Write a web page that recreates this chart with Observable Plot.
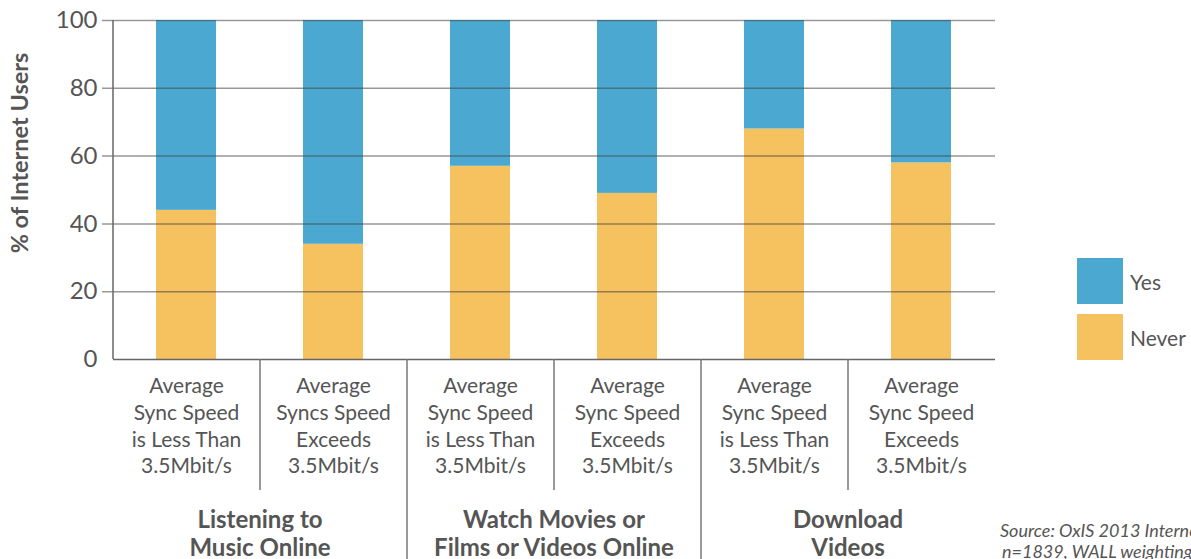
<!DOCTYPE html>
<html><head><meta charset="utf-8">
<script src="https://cdn.jsdelivr.net/npm/d3@7"></script>
<script src="https://cdn.jsdelivr.net/npm/@observablehq/plot@0.6"></script>
<style>
html,body{margin:0;padding:0;background:#fff;width:1191px;height:559px;overflow:hidden;font-family:Lato,sans-serif;color:#555}
#chart{position:absolute;left:0;top:0}
.legend{position:absolute;left:1077px;top:258px}
.item{display:flex;align-items:center;height:46px;margin-bottom:10px;font-size:21px}
.sw{width:46px;height:46px;margin-right:7px}
.source{position:absolute;left:1000px;top:520px;font-style:italic;font-size:18px;line-height:21px;white-space:nowrap}
.source span{padding-left:2px}
</style></head><body>
<div id="chart"></div>
<div class="legend" id="legend"></div>
<div class="source">Source: OxIS 2013 Internet Survey<br><span>n=1839, WALL weightings</span></div>
<script>
const barKeys = ["music-less","music-more","movies-less","movies-more","videos-less","videos-more"];
const barLabels = [
  "Average\nSync Speed\nis Less Than\n3.5Mbit/s",
  "Average\nSyncs Speed\nExceeds\n3.5Mbit/s",
  "Average\nSync Speed\nis Less Than\n3.5Mbit/s",
  "Average\nSync Speed\nExceeds\n3.5Mbit/s",
  "Average\nSync Speed\nis Less Than\n3.5Mbit/s",
  "Average\nSync Speed\nExceeds\n3.5Mbit/s"
];
const groupLabels = ["Listening to\nMusic Online", "Watch Movies or\nFilms or Videos Online", "Download\nVideos"];
const innerKeys = ["music-more","movies-more","videos-more"];   // second bar of each group
const groupStartKeys = ["movies-less","videos-less"];            // first bar of groups 2 and 3
const never = [44, 34, 57, 49, 68, 58];
const yes   = [56, 66, 43, 51, 32, 42];
const responses = ["Yes", "Never"];
const colors = ["#4BA8D1", "#F6C15F"];
const yTicks = [0, 20, 40, 60, 80, 100];
const gridTicks = [20, 40, 60, 80, 100];

const rows = [];
barKeys.forEach((k, i) => rows.push({key: k, response: "Never", value: never[i]}));
barKeys.forEach((k, i) => rows.push({key: k, response: "Yes", value: yes[i]}));

const half = 73.5;
const chart = Plot.plot({
  width: 1191, height: 559,
  marginLeft: 113, marginRight: 196, marginTop: 20, marginBottom: 200,
  style: {fontFamily: "Lato, sans-serif", color: "#555", background: "transparent", overflow: "visible"},
  x: {domain: barKeys, paddingInner: 0.59, paddingOuter: 0.295, axis: null},
  y: {domain: [0, 100], axis: null},
  color: {domain: responses, range: colors},
  marks: [
    Plot.barY(rows, {x: "key", y: "value", fill: "response", order: ["Never", "Yes"]}),
    Plot.ruleY(gridTicks, {stroke: "#444", strokeOpacity: 0.55, strokeWidth: 1.5, insetLeft: -11}),
    Plot.ruleY([0], {stroke: "#666", strokeWidth: 1.5}),
    Plot.ruleX([barKeys[0]], {x: d => d, dx: -half, stroke: "#666", strokeWidth: 1.5}),
    Plot.ruleX(innerKeys, {x: d => d, dx: -half, insetTop: 339, insetBottom: -131, stroke: "#777", strokeWidth: 1.5}),
    Plot.ruleX(groupStartKeys, {x: d => d, dx: -half, insetTop: 339, insetBottom: -200, stroke: "#777", strokeWidth: 1.5}),
    Plot.text(yTicks, {y: d => d, text: d => String(d), frameAnchor: "left", textAnchor: "end", dx: -16, fontSize: 24}),
    Plot.text(barKeys, {x: d => d, text: (d, i) => barLabels[i], frameAnchor: "bottom", lineAnchor: "top", dy: 15, fontSize: 21, lineHeight: 1.27}),
    Plot.text(innerKeys, {x: d => d, text: (d, i) => groupLabels[i], dx: -half, frameAnchor: "bottom", lineAnchor: "top", dy: 148, fontSize: 24, fontWeight: "bold", lineHeight: 1.18}),
    Plot.text(["% of Internet Users"], {text: d => d, frameAnchor: "left", textAnchor: "middle", rotate: -90, dx: -93, dy: -37, fontSize: 23.5, fontWeight: "bold"})
  ]
});
document.getElementById("chart").appendChild(chart);

const legend = document.getElementById("legend");
responses.forEach((r, i) => {
  const item = document.createElement("div");
  item.className = "item";
  item.innerHTML = `<div class="sw" style="background:${colors[i]}"></div><span>${r}</span>`;
  legend.appendChild(item);
});
</script>
</body></html>
